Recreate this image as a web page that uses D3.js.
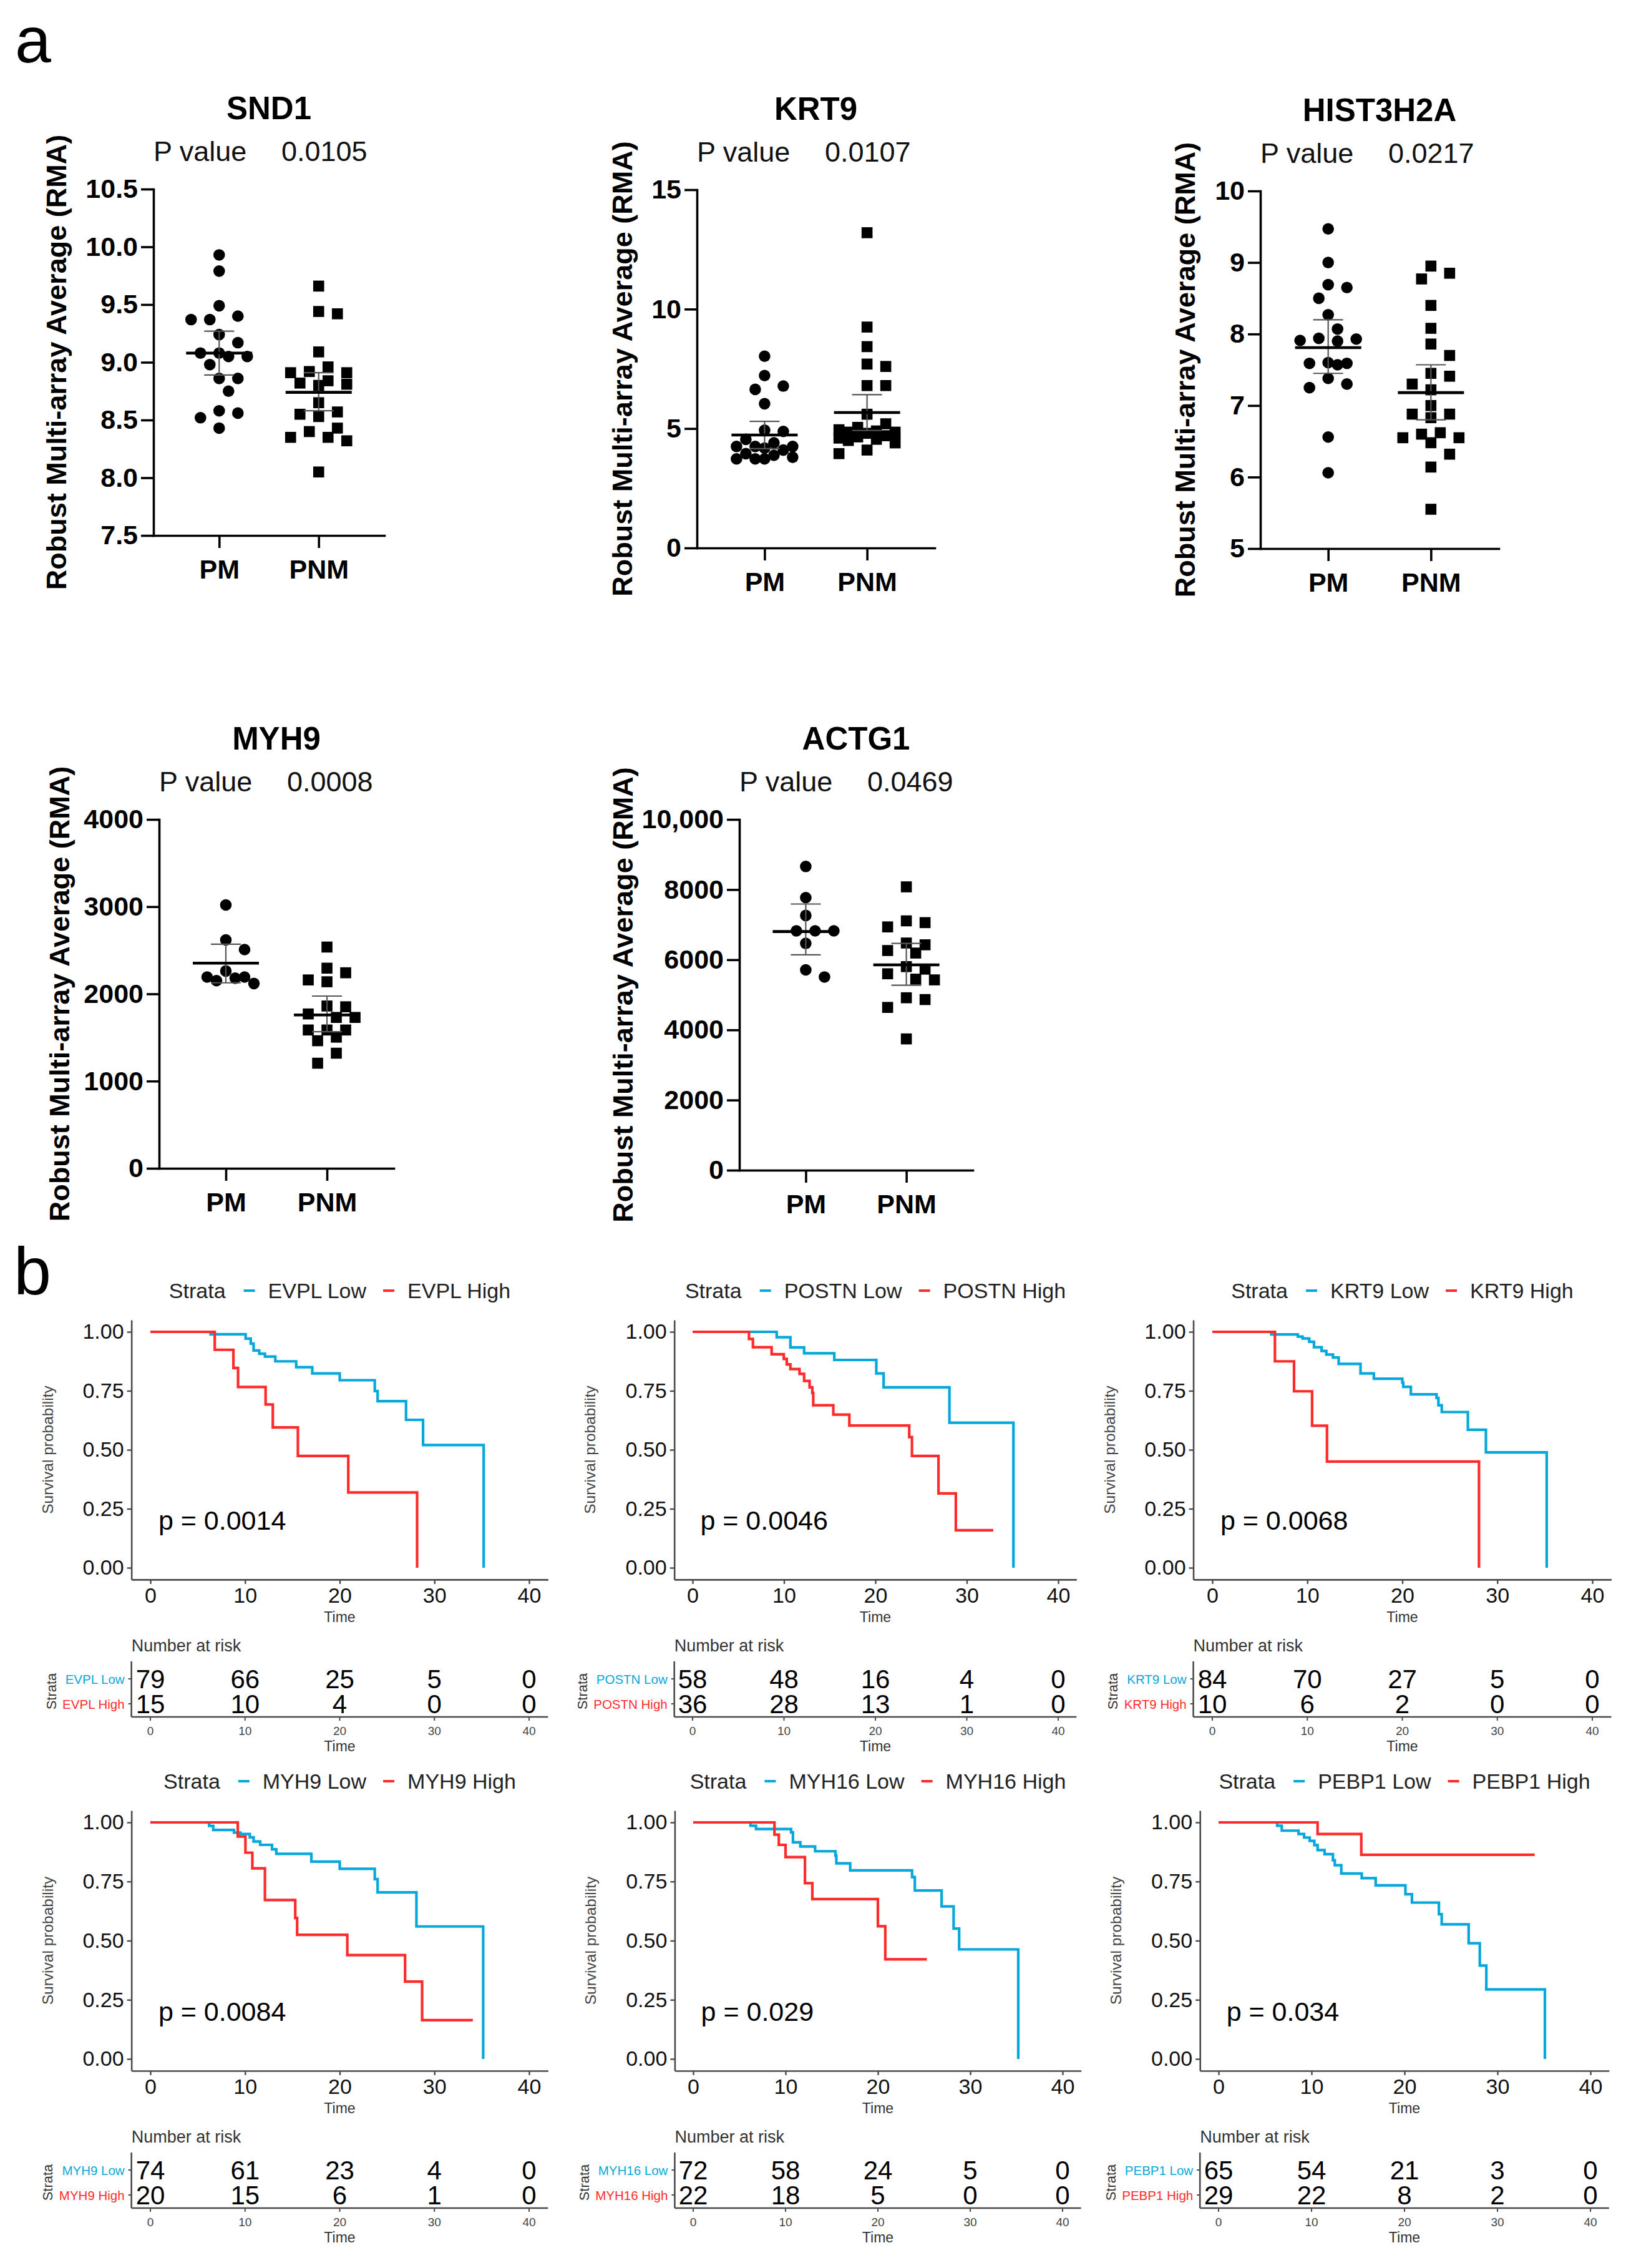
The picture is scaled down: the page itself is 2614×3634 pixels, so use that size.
<!DOCTYPE html>
<html><head><meta charset="utf-8">
<script src="https://cdn.jsdelivr.net/npm/d3@7"></script>
<style>
html,body{margin:0;padding:0;background:#fff;}
svg{display:block;font-family:"Liberation Sans",Arial,sans-serif;}
</style></head><body>
<svg id="fig" width="2614" height="3634"></svg>
<script>
// ================= DATA : panel a =================
const groups = ["PM", "PNM"];
const scatterGenes = ["SND1", "KRT9", "HIST3H2A", "MYH9", "ACTG1"];
const scatterPValues = ["0.0105", "0.0107", "0.0217", "0.0008", "0.0469"];

const snd1PM  = [9.93, 9.79, 9.49, 9.37, 9.40, 9.37, 9.24, 9.17, 9.05, 9.08, 9.08, 9.05, 8.98, 8.86, 8.86, 8.75, 8.56, 8.58, 8.52, 8.43];
const snd1PNM = [9.66, 9.44, 9.42, 9.09, 8.91, 8.96, 8.91, 8.92, 8.80, 8.82, 8.84, 8.81, 8.65, 8.53, 8.55, 8.57, 8.40, 8.35, 8.35, 8.43, 8.32, 8.05];
const snd1Mean = [9.08, 8.74], snd1Lo = [8.89, 8.58], snd1Hi = [9.27, 8.91];
const snd1Ticks = [7.5, 8.0, 8.5, 9.0, 9.5, 10.0, 10.5];
const snd1TickLabels = ["7.5", "8.0", "8.5", "9.0", "9.5", "10.0", "10.5"];

const krt9PM  = [8.03, 7.22, 6.78, 6.64, 6.04, 4.93, 4.88, 4.55, 4.25, 4.25, 4.25, 4.18, 4.10, 3.95, 3.88, 3.80, 3.73, 3.73, 3.73, 4.40];
const krt9PNM = [13.2, 9.25, 8.43, 7.70, 7.60, 6.80, 6.80, 5.60, 5.20, 4.90, 4.85, 4.95, 4.85, 5.05, 4.60, 4.50, 4.55, 4.65, 3.95, 4.10, 4.70, 4.80, 4.40];
const krt9Mean = [4.73, 5.67], krt9Lo = [4.16, 4.92], krt9Hi = [5.30, 6.42];
const krt9Ticks = [0, 5, 10, 15];
const krt9TickLabels = ["0", "5", "10", "15"];

const histPM  = [9.47, 9.00, 8.69, 8.65, 8.50, 8.27, 8.07, 7.90, 7.93, 7.91, 7.94, 7.57, 7.59, 7.60, 7.59, 7.30, 7.25, 7.38, 6.56, 6.06];
const histPNM = [8.95, 8.85, 8.77, 8.40, 8.08, 7.86, 7.70, 7.30, 7.41, 7.45, 7.22, 7.00, 6.88, 6.88, 6.83, 6.62, 6.48, 6.60, 6.55, 6.55, 6.32, 6.14, 5.55];
const histMean = [7.81, 7.18], histLo = [7.45, 6.80], histHi = [8.20, 7.57];
const histTicks = [5, 6, 7, 8, 9, 10];
const histTickLabels = ["5", "6", "7", "8", "9", "10"];

const myh9PM  = [3020, 2619, 2508, 2152, 2193, 2180, 2193, 2262, 2119];
const myh9PNM = [2537, 2242, 2295, 2139, 2160, 1852, 1861, 1730, 1730, 1770, 1586, 1586, 1586, 1463, 1504, 1320, 1205];
const myh9Mean = [2352, 1758], myh9Lo = [2127, 1566], myh9Hi = [2570, 1975];
const myh9Ticks = [0, 1000, 2000, 3000, 4000];
const myh9TickLabels = ["0", "1000", "2000", "3000", "4000"];

const actg1PM  = [8660, 7772, 7262, 6824, 6824, 6824, 6467, 5508, 5712];
const actg1PNM = [8078, 6936, 7109, 7058, 6426, 6477, 6191, 6263, 5732, 5804, 5426, 5447, 4916, 4865, 4641, 3743, 5600];
const actg1Mean = [6803, 5855], actg1Lo = [6140, 5273], actg1Hi = [7589, 6467];
const actg1Ticks = [0, 2000, 4000, 6000, 8000, 10000];
const actg1TickLabels = ["0", "2000", "4000", "6000", "8000", "10,000"];

// ================= DATA : panel b =================
const survGenes = ["EVPL", "POSTN", "KRT9", "MYH9", "MYH16", "PEBP1"];
const survPValues = ["0.0014", "0.0046", "0.0068", "0.0084", "0.029", "0.034"];
const survTimeTicks = [0, 10, 20, 30, 40];
const survProbTicks = [0, 0.25, 0.5, 0.75, 1];
const survProbLabels = ["0.00", "0.25", "0.50", "0.75", "1.00"];

const evplLow  = [[0,1],[6.35,0.99],[10.06,0.971],[10.6,0.95],[10.9,0.921],[11.5,0.907],[12.1,0.895],[13.2,0.875],[15.4,0.85],[17.1,0.824],[20.0,0.795],[23.7,0.749],[24.0,0.706],[27.0,0.627],[28.8,0.52],[35.2,0]];
const evplHigh = [[0,1],[6.8,0.924],[8.77,0.847],[9.26,0.766],[12.17,0.692],[12.93,0.595],[15.58,0.474],[20.9,0.319],[28.17,0]];
const postnLow  = [[0,1],[9.2,0.977],[10.7,0.934],[12.2,0.909],[15.5,0.881],[20.1,0.824],[20.9,0.765],[28.1,0.615],[35.1,0]];
const postnHigh = [[0,1],[6.17,0.97],[6.6,0.935],[8.65,0.905],[9.98,0.885],[10.3,0.862],[10.7,0.842],[11.7,0.822],[12.2,0.792],[12.8,0.765],[13.1,0.741],[13.2,0.689],[15.4,0.649],[17.15,0.603],[23.7,0.554],[24.0,0.474],[26.9,0.315],[28.8,0.159],[32.9,0.159]];
const krt9Low  = [[0,1],[6.2,0.989],[9.0,0.98],[9.5,0.972],[10.2,0.958],[10.7,0.935],[11.5,0.919],[12.0,0.904],[12.7,0.891],[13.3,0.864],[15.6,0.824],[17.0,0.801],[20.0,0.785],[20.1,0.767],[20.9,0.735],[23.6,0.72],[23.8,0.689],[24.15,0.66],[26.9,0.585],[28.8,0.489],[35.2,0]];
const krt9High = [[0,1],[6.59,0.875],[8.6,0.748],[10.5,0.602],[12.07,0.45],[28.07,0]];
const myh9Low  = [[0,1],[6.2,0.985],[6.64,0.968],[8.83,0.957],[9.5,0.951],[10.5,0.937],[10.9,0.919],[11.6,0.905],[12.85,0.886],[13.3,0.867],[17.0,0.834],[20.0,0.804],[23.7,0.76],[24.0,0.704],[28.1,0.56],[35.15,0]];
const myh9High = [[0,1],[9.23,0.94],[10.04,0.872],[10.77,0.806],[12.1,0.672],[15.3,0.596],[15.5,0.525],[20.8,0.439],[26.9,0.327],[28.7,0.164],[34.05,0.164]];
const myh16Low  = [[0,1],[6.2,0.986],[6.8,0.972],[10.6,0.958],[10.8,0.916],[11.6,0.898],[13.2,0.878],[15.4,0.86],[15.5,0.827],[17.0,0.797],[23.7,0.769],[24.0,0.712],[26.9,0.645],[28.2,0.551],[28.8,0.463],[35.2,0]];
const myh16High = [[0,1],[8.8,0.948],[9.27,0.905],[10.0,0.853],[12.1,0.743],[12.9,0.676],[20.0,0.561],[20.8,0.421],[25.3,0.421]];
const pebp1Low  = [[0,1],[6.3,0.986],[6.8,0.965],[8.6,0.951],[9.2,0.936],[9.8,0.922],[10.3,0.904],[10.65,0.883],[11.4,0.866],[12.3,0.84],[12.5,0.819],[13.2,0.784],[15.4,0.764],[16.9,0.734],[20.1,0.696],[20.8,0.661],[23.7,0.612],[24.0,0.569],[26.9,0.489],[28.1,0.395],[28.8,0.294],[35.1,0]];
const pebp1High = [[0,1],[10.65,0.951],[15.35,0.863],[34.0,0.863]];

const evplRiskLow = [79, 66, 25, 5, 0],  evplRiskHigh = [15, 10, 4, 0, 0];
const postnRiskLow = [58, 48, 16, 4, 0], postnRiskHigh = [36, 28, 13, 1, 0];
const krt9RiskLow = [84, 70, 27, 5, 0],  krt9RiskHigh = [10, 6, 2, 0, 0];
const myh9RiskLow = [74, 61, 23, 4, 0],  myh9RiskHigh = [20, 15, 6, 1, 0];
const myh16RiskLow = [72, 58, 24, 5, 0], myh16RiskHigh = [22, 18, 5, 0, 0];
const pebp1RiskLow = [65, 54, 21, 3, 0], pebp1RiskHigh = [29, 22, 8, 2, 0];

// ================= LAYOUT (positions only) =================
const scatterLayout = [
  {x0: 246,  x1: 616,  yT: 303,  yB: 858,  labelX: 90},
  {x0: 1117, x1: 1498, yT: 304,  yB: 878,  labelX: 997},
  {x0: 2020, x1: 2402, yT: 306,  yB: 879,  labelX: 1899},
  {x0: 255,  x1: 631,  yT: 1313, yB: 1872, labelX: 95},
  {x0: 1185, x1: 1559, yT: 1313, yB: 1875, labelX: 998}
];
const survLayout = [
  {x0: 241,  x40: 848,  y1: 2134, y0: 2512},
  {x0: 1110, x40: 1696, y1: 2134, y0: 2512},
  {x0: 1943, x40: 2552, y1: 2134, y0: 2512},
  {x0: 241,  x40: 848,  y1: 2920, y0: 3299},
  {x0: 1111, x40: 1703, y1: 2920, y0: 3299},
  {x0: 1953, x40: 2549, y1: 2920, y0: 3299}
];
const BLUE = "#06A7DA", RED = "#FF2B2B";

const svg = d3.select("#fig");
svg.append("rect").attr("width", 2614).attr("height", 3634).attr("fill", "#fff");

svg.append("text").attr("x", 24).attr("y", 100).attr("font-size", 104).text("a");
svg.append("text").attr("x", 22).attr("y", 2074).attr("font-size", 108).text("b");

// ---------- scatter panels ----------
// column scatter: spread points of similar value sideways, within the column width
function swarm(vals, cx, y, step, minD, maxSteps) {
  const pts = vals.map(v => ({v, py: y(v)})).sort((a, b) => a.py - b.py);
  const placed = [];
  const offs = [0];
  for (let k = 1; k <= maxSteps; k++) { offs.push(k * step, -k * step); }
  pts.forEach(p => {
    let best = null, bestD = -1;
    for (const off of offs) {
      const px = cx + off;
      const dmin = placed.length ? d3.min(placed, q => Math.hypot(q.px - px, q.py - p.py)) : Infinity;
      if (dmin >= minD) { best = px; break; }
      if (dmin > bestD) { bestD = dmin; best = px; }
    }
    p.px = best; placed.push(p);
  });
  return placed;
}

function scatterPanel(i, pm, pnm, mean, lo, hi, ticks, tickLabels) {
  const L = scatterLayout[i];
  const g = svg.append("g");
  const y = d3.scaleLinear().domain([ticks[0], ticks[ticks.length - 1]]).range([L.yB, L.yT]);
  const x = d3.scalePoint().domain(groups).range([L.x0, L.x1]).padding(0.66);

  const ya = g.append("g").attr("transform", `translate(${L.x0},0)`)
    .call(d3.axisLeft(y).tickValues(ticks).tickFormat((d, k) => tickLabels[k]).tickSize(20).tickSizeOuter(0).tickPadding(5));
  const xa = g.append("g").attr("transform", `translate(0,${L.yB})`)
    .call(d3.axisBottom(x).tickSize(20).tickSizeOuter(0).tickPadding(18));
  [ya, xa].forEach(a => {
    a.select(".domain").attr("stroke", "#000").attr("stroke-width", 3.6).attr("stroke-linecap", "square");
    a.selectAll(".tick line").attr("stroke", "#000").attr("stroke-width", 3.6);
    a.selectAll("text").attr("fill", "#000").attr("font-size", 43).attr("font-weight", "bold")
      .attr("font-family", '"Liberation Sans", Arial, sans-serif');
  });

  // points
  const ptsPM = swarm(pm, x("PM"), y, 15, 25, 3);
  const ptsPNM = swarm(pnm, x("PNM"), y, 15, 25, 3);
  g.selectAll("circle.pt").data(ptsPM).join("circle").attr("class", "pt")
    .attr("cx", d => d.px).attr("cy", d => d.py).attr("r", 9.3).attr("fill", "#000");
  g.selectAll("rect.pt").data(ptsPNM).join("rect").attr("class", "pt")
    .attr("x", d => d.px - 8.8).attr("y", d => d.py - 8.8).attr("width", 17.6).attr("height", 17.6).attr("fill", "#000");

  // error bars
  groups.forEach((grp, k) => {
    const cx = x(grp);
    g.append("line").attr("x1", cx).attr("x2", cx).attr("y1", y(lo[k])).attr("y2", y(hi[k]))
      .attr("stroke", "#555").attr("stroke-width", 2.2);
    [lo[k], hi[k]].forEach(v => g.append("line").attr("x1", cx - 24).attr("x2", cx + 24)
      .attr("y1", y(v)).attr("y2", y(v)).attr("stroke", "#555").attr("stroke-width", 2.2));
    g.append("line").attr("x1", cx - 53).attr("x2", cx + 53).attr("y1", y(mean[k])).attr("y2", y(mean[k]))
      .attr("stroke", "#000").attr("stroke-width", 4.6);
  });

  g.append("text").attr("x", (L.x0 + L.x1) / 2).attr("y", L.yT - 112).attr("text-anchor", "middle")
    .attr("font-size", 51).attr("font-weight", "bold").text(scatterGenes[i]);
  g.append("text").attr("x", L.x0).attr("y", L.yT - 45).attr("font-size", 45).attr("fill", "#111").text("P value");
  g.append("text").attr("x", L.x0 + 205).attr("y", L.yT - 45).attr("font-size", 45).attr("fill", "#111").text(scatterPValues[i]);
  g.append("text").attr("transform", `translate(${L.labelX},${(L.yT + L.yB) / 2}) rotate(-90)`)
    .attr("text-anchor", "middle").attr("dominant-baseline", "central")
    .attr("font-size", 45).attr("font-weight", "bold").text("Robust Multi-array Average (RMA)");
}

scatterPanel(0, snd1PM, snd1PNM, snd1Mean, snd1Lo, snd1Hi, snd1Ticks, snd1TickLabels);
scatterPanel(1, krt9PM, krt9PNM, krt9Mean, krt9Lo, krt9Hi, krt9Ticks, krt9TickLabels);
scatterPanel(2, histPM, histPNM, histMean, histLo, histHi, histTicks, histTickLabels);
scatterPanel(3, myh9PM, myh9PNM, myh9Mean, myh9Lo, myh9Hi, myh9Ticks, myh9TickLabels);
scatterPanel(4, actg1PM, actg1PNM, actg1Mean, actg1Lo, actg1Hi, actg1Ticks, actg1TickLabels);

// ---------- survival panels ----------
function survPanel(i, low, high, riskLow, riskHigh) {
  const L = survLayout[i];
  const name = survGenes[i];
  const g = svg.append("g");
  const ux = (L.x40 - L.x0) / 40, uy = (L.y0 - L.y1);
  const x = d3.scaleLinear().domain([-2, 42]).range([L.x0 - 2 * ux, L.x40 + 2 * ux]);
  const y = d3.scaleLinear().domain([-0.05, 1.05]).range([L.y0 + 0.05 * uy, L.y1 - 0.05 * uy]);
  const xl = x(-2), xr = x(42), yb = y(-0.05);
  const AX = "#4a4a4a";

  const ya = g.append("g").attr("transform", `translate(${xl},0)`)
    .call(d3.axisLeft(y).tickValues(survProbTicks).tickFormat((d, k) => survProbLabels[k]).tickSize(7).tickSizeOuter(0).tickPadding(5));
  const xa = g.append("g").attr("transform", `translate(0,${yb})`)
    .call(d3.axisBottom(x).tickValues(survTimeTicks).tickFormat(d3.format("d")).tickSize(7).tickSizeOuter(0).tickPadding(6));
  [ya, xa].forEach(a => {
    a.select(".domain").attr("stroke", AX).attr("stroke-width", 2.6);
    a.selectAll(".tick line").attr("stroke", AX).attr("stroke-width", 2.4);
    a.selectAll("text").attr("fill", "#111").attr("font-size", 34)
      .attr("font-family", '"Liberation Sans", Arial, sans-serif');
  });

  const line = d3.line().x(d => x(d[0])).y(d => y(d[1])).curve(d3.curveStepAfter);
  g.append("path").datum(low).attr("d", line).attr("fill", "none").attr("stroke", BLUE).attr("stroke-width", 4.2);
  g.append("path").datum(high).attr("d", line).attr("fill", "none").attr("stroke", RED).attr("stroke-width", 4.2);

  g.append("text").attr("x", x(0.85)).attr("y", y(0.2)).attr("dominant-baseline", "central")
    .attr("font-size", 43).attr("fill", "#000").text("p = " + survPValues[i]);

  g.append("text").attr("transform", `translate(${L.x0 - 165},${(L.y0 + L.y1) / 2}) rotate(-90)`)
    .attr("text-anchor", "middle").attr("dominant-baseline", "central")
    .attr("font-size", 24.5).attr("fill", "#444").text("Survival probability");
  g.append("text").attr("x", x(20)).attr("y", yb + 60).attr("text-anchor", "middle")
    .attr("dominant-baseline", "central").attr("font-size", 23).attr("fill", "#333").text("Time");

  // legend
  const lg = g.append("g");
  const ly = L.y1 - 66;
  const items = [];
  const t0 = lg.append("text").attr("y", ly).attr("dominant-baseline", "central").attr("font-size", 34).attr("fill", "#222").text("Strata");
  items.push({node: t0, w: t0.node().getComputedTextLength(), gapAfter: 29});
  [[BLUE, name + " Low"], [RED, name + " High"]].forEach(([c, lab], k) => {
    const dash = lg.append("line").attr("y1", ly).attr("y2", ly).attr("stroke", c).attr("stroke-width", 4);
    items.push({dash, w: 18, gapAfter: 21});
    const t = lg.append("text").attr("y", ly).attr("dominant-baseline", "central").attr("font-size", 34).attr("fill", "#222").text(lab);
    items.push({node: t, w: t.node().getComputedTextLength(), gapAfter: k === 0 ? 27 : 0});
  });
  const total = d3.sum(items, d => d.w + d.gapAfter);
  let cx = (xl + xr) / 2 - total / 2;
  items.forEach(it => {
    if (it.node) it.node.attr("x", cx);
    else it.dash.attr("x1", cx).attr("x2", cx + it.w);
    cx += it.w + it.gapAfter;
  });

  // risk table
  const r1 = L.y0 + 178, r2 = L.y0 + 218, rAxis = L.y0 + 239, rTop = L.y0 + 150;
  g.append("text").attr("x", xl).attr("y", L.y0 + 125).attr("dominant-baseline", "central")
    .attr("font-size", 27).attr("fill", "#333").text("Number at risk");
  g.append("line").attr("x1", xl).attr("x2", xl).attr("y1", rTop).attr("y2", rAxis).attr("stroke", AX).attr("stroke-width", 2.6);
  g.append("line").attr("x1", xl).attr("x2", xr).attr("y1", rAxis).attr("y2", rAxis).attr("stroke", AX).attr("stroke-width", 2.6);
  survTimeTicks.forEach(t => {
    g.append("line").attr("x1", x(t)).attr("x2", x(t)).attr("y1", rAxis).attr("y2", rAxis + 6).attr("stroke", AX).attr("stroke-width", 2);
    g.append("text").attr("x", x(t)).attr("y", rAxis + 22).attr("text-anchor", "middle").attr("dominant-baseline", "central")
      .attr("font-size", 19).attr("fill", "#444").text(t);
  });
  g.append("text").attr("x", x(20)).attr("y", rAxis + 47).attr("text-anchor", "middle").attr("dominant-baseline", "central")
    .attr("font-size", 23).attr("fill", "#333").text("Time");
  const labW = [];
  [[r1, riskLow, BLUE, name + " Low"], [r2, riskHigh, RED, name + " High"]].forEach(([ry, vals, c, lab]) => {
    g.append("line").attr("x1", xl - 5).attr("x2", xl).attr("y1", ry).attr("y2", ry).attr("stroke", AX).attr("stroke-width", 2);
    const t = g.append("text").attr("x", xl - 11).attr("y", ry).attr("text-anchor", "end").attr("dominant-baseline", "central")
      .attr("font-size", 20.5).attr("fill", c).text(lab);
    labW.push(t.node().getComputedTextLength());
    vals.forEach((v, k) => g.append("text").attr("x", x(survTimeTicks[k])).attr("y", ry)
      .attr("text-anchor", "middle").attr("dominant-baseline", "central").attr("font-size", 42).attr("fill", "#000").text(v));
  });
  g.append("text").attr("transform", `translate(${xl - 11 - d3.max(labW) - 18},${(r1 + r2) / 2}) rotate(-90)`)
    .attr("text-anchor", "middle").attr("dominant-baseline", "central").attr("font-size", 22).attr("fill", "#333").text("Strata");
}

survPanel(0, evplLow, evplHigh, evplRiskLow, evplRiskHigh);
survPanel(1, postnLow, postnHigh, postnRiskLow, postnRiskHigh);
survPanel(2, krt9Low, krt9High, krt9RiskLow, krt9RiskHigh);
survPanel(3, myh9Low, myh9High, myh9RiskLow, myh9RiskHigh);
survPanel(4, myh16Low, myh16High, myh16RiskLow, myh16RiskHigh);
survPanel(5, pebp1Low, pebp1High, pebp1RiskLow, pebp1RiskHigh);
</script>
</body></html>
